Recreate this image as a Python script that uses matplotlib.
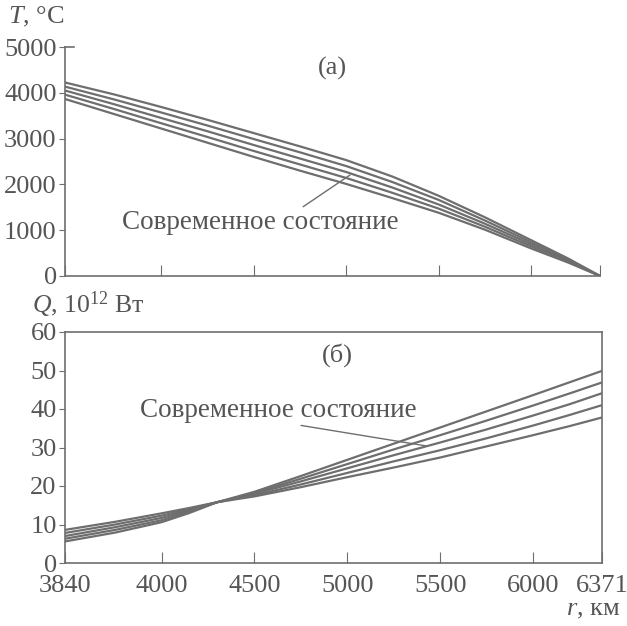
import matplotlib
matplotlib.use("Agg")
import matplotlib.pyplot as plt

plt.rcParams['font.family'] = ['Liberation Serif', 'DejaVu Serif']
plt.rcParams['mathtext.fontset'] = 'custom'
plt.rcParams['mathtext.rm'] = 'Liberation Serif'
plt.rcParams['mathtext.it'] = 'Liberation Serif:italic'

# ---- data ----
r_top = [3480, 3750, 4000, 4250, 4500, 4750, 5000, 5250, 5500, 5750, 6000, 6200, 6371]
T_series = [
    [4225, 3960, 3690, 3410, 3120, 2830, 2530, 2170, 1750, 1280, 780, 380, 0],
    [4135, 3850, 3570, 3285, 2990, 2700, 2400, 2050, 1660, 1210, 735, 358, 0],
    [4050, 3745, 3450, 3160, 2860, 2565, 2270, 1930, 1560, 1140, 690, 336, 0],
    [3960, 3640, 3335, 3035, 2730, 2435, 2140, 1815, 1470, 1075, 645, 314, 0],
    [3865, 3530, 3220, 2910, 2600, 2300, 2010, 1700, 1380, 1010, 600, 292, 0],
]
r_bot = [3480, 3750, 4000, 4150, 4300, 4500, 4750, 5000, 5250, 5500, 5750, 6000, 6200, 6371]
Q_series = [
    [5.6, 7.9, 10.6, 13.0, 15.8, 18.5, 22.6, 26.8, 31.0, 35.2, 39.4, 43.6, 47.0, 49.9],
    [6.3, 8.6, 11.1, 13.4, 15.8, 18.2, 21.9, 25.7, 29.5, 33.2, 37.0, 40.9, 44.1, 46.9],
    [7.0, 9.3, 11.7, 13.7, 15.8, 18.0, 21.2, 24.6, 28.0, 31.3, 34.7, 38.3, 41.3, 44.1],
    [7.8, 10.0, 12.3, 14.0, 15.8, 17.6, 20.4, 23.4, 26.4, 29.3, 32.4, 35.7, 38.5, 41.0],
    [8.6, 10.7, 12.9, 14.3, 15.8, 17.3, 19.7, 22.3, 24.8, 27.4, 30.3, 33.2, 35.6, 37.8],
]
x_ticks = [3480, 4000, 4500, 5000, 5500, 6000, 6371]
x_ticklabels = ["3840", "4000", "4500", "5000", "5500", "6000", "6371"]
T_ticks = [0, 1000, 2000, 3000, 4000, 5000]
Q_ticks = [0, 10, 20, 30, 40, 50, 60]
label_text = "Современное состояние"

line_col = "#6e6e6e"
text_col = "#555555"
fs = 19

fig = plt.figure(figsize=(6.27, 6.26), dpi=100)
ax1 = fig.add_axes([65/627, 1-276/626, 535/627, 229/626])
ax2 = fig.add_axes([65/627, 1-563/626, 537/627, 231/626])

for T in T_series:
    ax1.plot(r_top, T, color=line_col, lw=1.6, solid_capstyle='round')
for Q in Q_series:
    ax2.plot(r_bot, Q, color=line_col, lw=1.6, solid_capstyle='round')

# top axes style
ax1.set_xlim(3480, 6371)
ax1.set_ylim(0, 5000)
ax1.spines['top'].set_visible(False)
ax1.spines['right'].set_visible(False)
ax1.set_xticks(x_ticks)
ax1.set_xticklabels([])
ax1.set_yticks(T_ticks)
ax1.tick_params(axis='x', direction='in', length=8, color=line_col)
ax1.tick_params(axis='y', direction='out', length=4, color=line_col,
                labelsize=fs, labelcolor=text_col, pad=2)
ax1.axhline(5000, xmin=0, xmax=0.017, color=line_col, lw=1.2, clip_on=False)

# bottom axes style
ax2.set_xlim(3480, 6371)
ax2.set_ylim(0, 60)
ax2.set_xticks(x_ticks)
ax2.set_xticklabels(x_ticklabels)
ax2.set_yticks(Q_ticks)
ax2.tick_params(axis='x', direction='in', length=8, color=line_col,
                labelsize=fs, labelcolor=text_col, pad=9)
ax2.tick_params(axis='y', direction='out', length=4, color=line_col,
                labelsize=fs, labelcolor=text_col, pad=2)

for ax in (ax1, ax2):
    for s in ax.spines.values():
        s.set_color(line_col)
        s.set_linewidth(1.2)

# annotations
ax1.text(4923, 4541, "(а)", fontsize=fs, color=text_col, ha='center', va='center')
ax2.text(4945, 54, "(б)", fontsize=fs, color=text_col, ha='center', va='center')

ax1.annotate(label_text, xy=(5020, 2205), xytext=(3788, 1179),
             fontsize=19.5, color=text_col, ha='left', va='center',
             arrowprops=dict(arrowstyle='-', color=line_col, lw=1.0,
                             shrinkA=0, shrinkB=0, relpos=(0.64, 1.0)))
ax2.annotate(label_text, xy=(5426, 30.4), xytext=(3885, 39.7),
             fontsize=19.5, color=text_col, ha='left', va='center',
             arrowprops=dict(arrowstyle='-', color=line_col, lw=1.0,
                             shrinkA=0, shrinkB=0, relpos=(0.52, 0.0)))

fig.text(8/627, 1-17/626, "$T$, °C", fontsize=fs, color=text_col,
         ha='left', va='center')
fig.text(32/627, 1-305/626, "$Q$, 10$^{12}$ Вт", fontsize=18.5, color=text_col,
         ha='left', va='center')
fig.text(620/627, 1-610/626, "$r$, км", fontsize=fs, color=text_col,
         ha='right', va='center')

fig.savefig("out.png", dpi=100)
